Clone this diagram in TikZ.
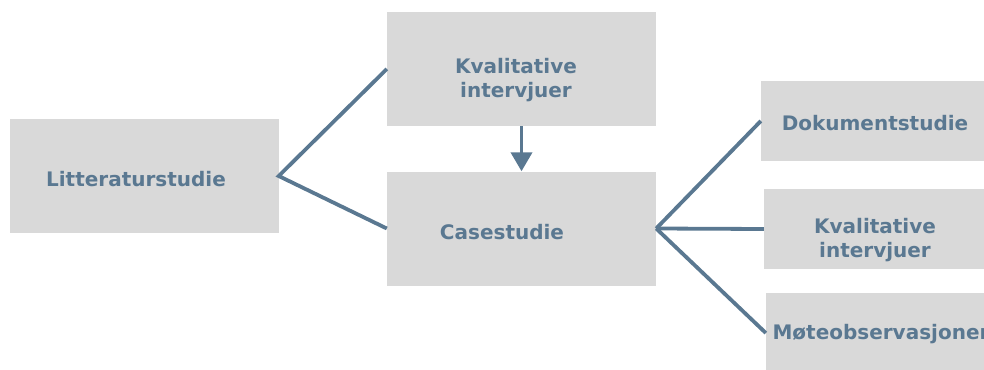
\documentclass[tikz,border=0pt]{standalone}
\usepackage{fontspec}
\setmainfont{DejaVu Sans}
\usetikzlibrary{arrows.meta}

\definecolor{boxgray}{HTML}{D9D9D9}
\definecolor{slate}{HTML}{5A7891}

\tikzset{
  box/.style={fill=boxgray, inner sep=0pt, minimum width=269pt, minimum height=114pt},
  sidebox/.style={box, minimum width=230pt, minimum height=80pt},
  txt/.style={text=slate, font=\bfseries\fontsize{20}{24}\selectfont, align=center, inner sep=0pt},
  link/.style={draw=slate, line width=3.8pt},
}

\begin{document}
\begin{tikzpicture}[x=1pt,y=-1pt]

    % Canvas
    \useasboundingbox (0,0) rectangle (984,369);
    \clip (0,0) rectangle (984,369);

    % Main boxes
    \node[box] (lit) at (144,176) {};
    \node[box] (kv1) at (521.5,69) {};
    \node[box] (case) at (521.5,228.5) {};
    \node[txt] (lit-t) at (136,179.5) {Litteraturstudie};
    \node[txt] (kv1-t) at (516,80) {Kvalitative\\intervjuer};
    \node[txt] (case-t) at (502,232) {Casestudie};

    % Methods of the case study
    \node[sidebox] (dok) at (876,121) {};
    \node[sidebox] (kv2) at (879,229) {};
    \node[sidebox] (mote) at (881,333) {};
    \node[txt] (dok-t) at (875,123.5) {Dokumentstudie};
    \node[txt] (kv2-t) at (875,240) {Kvalitative\\intervjuer};
    \node[txt] (mote-t) at (881,334) {Møteobservasjoner};

    % Connectors
    \draw[link] (kv1.west) -- (lit.east) -- (case.west);
    \draw[link] (case.east) -- (dok.west);
    \draw[link] (case.east) -- (kv2.west);
    \draw[link] (case.east) -- (mote.west);
    \draw[link,-{Triangle[width=21pt,length=19pt]}] (kv1) -- (case);
\end{tikzpicture}
\end{document}
